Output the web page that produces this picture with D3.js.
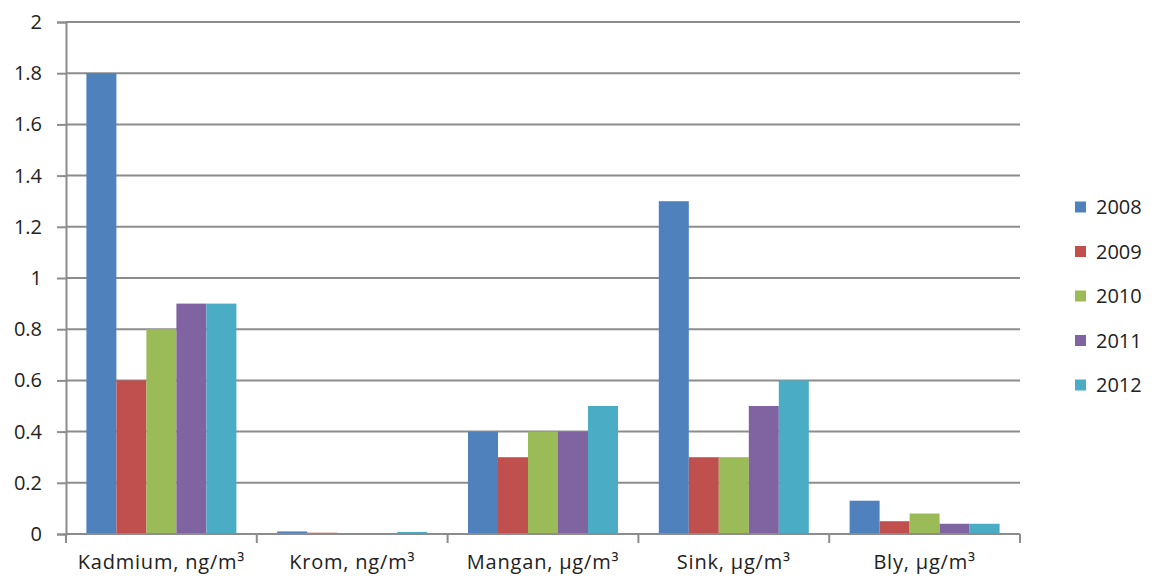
<!DOCTYPE html>
<html>
<head>
<meta charset="utf-8">
<script src="https://cdn.jsdelivr.net/npm/d3@7"></script>
<style>
  body { margin: 0; background: #fff; }
  svg text { font-family: "Open Sans", "Liberation Sans", sans-serif; fill: #222; }
</style>
</head>
<body>
<div id="chart"></div>
<script>
// data
var categories = ["Kadmium, ng/m³", "Krom, ng/m³", "Mangan, µg/m³", "Sink, µg/m³", "Bly, µg/m³"];
var years = ["2008", "2009", "2010", "2011", "2012"];
var colors = ["#4F81BD", "#C0504D", "#9BBB59", "#8064A2", "#4BACC6"];
var values2008 = [1.8, 0.01, 0.4, 1.3, 0.13];
var values2009 = [0.6, 0.005, 0.3, 0.3, 0.05];
var values2010 = [0.8, 0.002, 0.4, 0.3, 0.08];
var values2011 = [0.9, 0.002, 0.4, 0.5, 0.04];
var values2012 = [0.9, 0.008, 0.5, 0.6, 0.04];
var yTicks = [0, 0.2, 0.4, 0.6, 0.8, 1, 1.2, 1.4, 1.6, 1.8, 2];

var series = [values2008, values2009, values2010, values2011, values2012];

var width = 1154, height = 581;
var plotLeft = 66, plotRight = 1020, plotTop = 22, plotBottom = 534;

var svg = d3.select("#chart").append("svg")
    .attr("width", width)
    .attr("height", height);

var x = d3.scaleBand().domain(categories).range([plotLeft, plotRight]).paddingInner(0).paddingOuter(0);
var xi = d3.scaleBand().domain(years).range([0, x.bandwidth()]).paddingInner(0).paddingOuter(0.68);
var y = d3.scaleLinear().domain([0, 2]).range([plotBottom, plotTop]);

// gridlines
svg.append("g")
   .selectAll("line")
   .data(yTicks.slice(1))
   .enter().append("line")
   .attr("x1", plotLeft).attr("x2", plotRight)
   .attr("y1", function(d) { return y(d); })
   .attr("y2", function(d) { return y(d); })
   .attr("stroke", "#8c8c8c")
   .attr("stroke-width", 2);

// bars
years.forEach(function(yr, i) {
  svg.append("g")
     .selectAll("rect")
     .data(series[i])
     .enter().append("rect")
     .attr("x", function(d, j) { return x(categories[j]) + xi(yr); })
     .attr("width", xi.bandwidth())
     .attr("y", function(d) { return y(d); })
     .attr("height", function(d) { return plotBottom - y(d); })
     .attr("fill", colors[i]);
});

// y axis
var yAxis = d3.axisLeft(y).tickValues(yTicks).tickSize(9).tickPadding(15)
              .tickFormat(function(d) { return String(d); });
var gy = svg.append("g").attr("transform", "translate(" + plotLeft + ",0)").call(yAxis);
gy.select(".domain").attr("stroke", "#8c8c8c").attr("stroke-width", 2);
gy.selectAll(".tick line").attr("stroke", "#8c8c8c").attr("stroke-width", 2);
gy.selectAll(".tick text").style("font-size", "20px").attr("fill", "#222");

// x axis
var gx = svg.append("g").attr("transform", "translate(0," + plotBottom + ")");
gx.append("line")
  .attr("x1", plotLeft).attr("x2", plotRight)
  .attr("stroke", "#8c8c8c").attr("stroke-width", 2);
gx.selectAll(".xt")
  .data(categories.map(function(c) { return x(c); }).concat([plotRight]))
  .enter().append("line")
  .attr("x1", function(d) { return d; }).attr("x2", function(d) { return d; })
  .attr("y1", 0).attr("y2", 9)
  .attr("stroke", "#8c8c8c").attr("stroke-width", 2);
gx.selectAll("text")
  .data(categories)
  .enter().append("text")
  .attr("x", function(d) { return x(d) + x.bandwidth() / 2; })
  .attr("y", 35)
  .attr("text-anchor", "middle")
  .style("font-size", "20px")
  .style("letter-spacing", "0.8px")
  .text(function(d) { return d; });

// legend
var legend = svg.append("g").attr("transform", "translate(1075,207)");
years.forEach(function(yr, i) {
  var row = legend.append("g").attr("transform", "translate(0," + (i * 44.5) + ")");
  row.append("rect").attr("x", 0).attr("y", -5.5).attr("width", 11).attr("height", 11).attr("fill", colors[i]);
  row.append("text").attr("x", 21).attr("y", 7).style("font-size", "20px").text(yr);
});
</script>
</body>
</html>
